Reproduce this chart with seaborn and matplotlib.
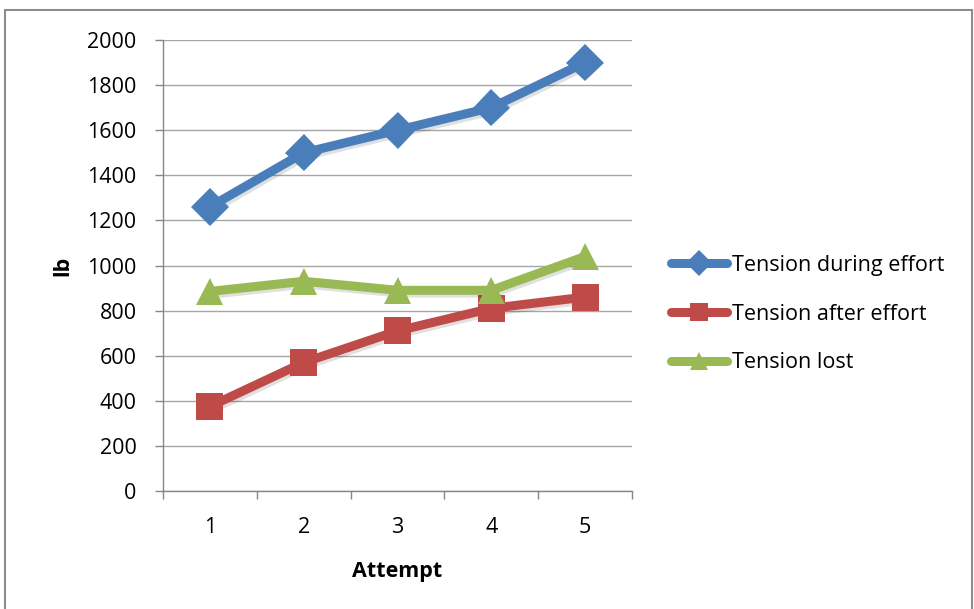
import matplotlib
matplotlib.use("Agg")
import matplotlib.pyplot as plt
import matplotlib.patheffects as pe
from matplotlib.patches import Rectangle
from matplotlib.lines import Line2D
import seaborn as sns
import pandas as pd

attempts = [1, 2, 3, 4, 5]
during_effort = [1260, 1500, 1600, 1700, 1900]
after_effort = [375, 570, 710, 810, 860]
tension_lost = [885, 930, 890, 890, 1040]

series_names = ["Tension during effort", "Tension after effort", "Tension lost"]
series_values = [during_effort, after_effort, tension_lost]
colors = ["#4A7EBB", "#BE4B48", "#98B954"]
markers = ["D", "s", "^"]
marker_sizes = [19, 19.5, 19.5]
y_ticks = [0, 200, 400, 600, 800, 1000, 1200, 1400, 1600, 1800, 2000]

df = pd.concat(
    [pd.DataFrame({"Attempt": attempts, "lb": vals, "series": name})
     for name, vals in zip(series_names, series_values)],
    ignore_index=True,
)

sns.set_style("white")
plt.rcParams["font.family"] = ["Open Sans", "DejaVu Sans"]
plt.rcParams["text.color"] = "black"
plt.rcParams["axes.labelcolor"] = "black"
plt.rcParams["xtick.color"] = "black"
plt.rcParams["ytick.color"] = "black"

FS = 15.5

fig = plt.figure(figsize=(9.74, 6.09), dpi=100)
ax = fig.add_axes([163 / 974, 1 - 491 / 609, (632 - 163) / 974, (491 - 40) / 609])

sns.lineplot(
    data=df, x="Attempt", y="lb", hue="series", style="series",
    palette=colors, markers=markers, dashes=False, linewidth=6.5,
    markersize=19.5, markeredgewidth=0, ax=ax, legend=False,
)

shadow = [pe.SimpleLineShadow(offset=(1.5, -2), alpha=0.12, shadow_color="black"), pe.Normal()]
for line, ms in zip(ax.get_lines(), marker_sizes):
    line.set_markersize(ms)
    line.set_path_effects(shadow)
    line.set_solid_capstyle("round")

ax.set_xlim(0.5, 5.5)
ax.set_ylim(0, 2000)
ax.set_yticks(y_ticks)
ax.set_xticks(attempts)
ax.set_xticks([0.5, 1.5, 2.5, 3.5, 4.5, 5.5], minor=True)
ax.tick_params(axis="x", which="major", bottom=True, length=0, pad=19, labelsize=FS,
               labelcolor="black")
ax.tick_params(axis="x", which="minor", bottom=True, length=6, width=1, color="#868686",
               direction="out")
ax.tick_params(axis="y", which="major", left=True, length=6, width=1, color="#868686",
               direction="out", pad=13, labelsize=FS, labelcolor="black")
ax.yaxis.grid(True, color="#a6a6a6", linewidth=1)
ax.set_axisbelow(True)
for side in ["top", "right"]:
    ax.spines[side].set_visible(False)
for side in ["left", "bottom"]:
    ax.spines[side].set_color("#868686")
    ax.spines[side].set_linewidth(1)

ax.set_xlabel("Attempt", fontsize=FS, fontweight="bold", labelpad=16)
ax.set_ylabel("lb", fontsize=FS, fontweight="bold", labelpad=10)

handles = [
    Line2D([], [], color=c, marker=m, linewidth=6.5, markersize=13, markeredgewidth=0)
    for c, m in zip(colors, markers)
]
fig.legend(
    handles, series_names, loc="center left", bbox_to_anchor=(652 / 974, 1 - 314 / 609),
    frameon=False, fontsize=FS, handlelength=2.6, handletextpad=0.2, labelspacing=1.28,
)

fig.patches.append(Rectangle((5 / 974, -0.01), 967 / 974, 1 - 10 / 609 + 0.01,
                             transform=fig.transFigure, fill=False,
                             edgecolor="#8c8c8c", linewidth=1.5))

fig.savefig("out.png", dpi=100)
